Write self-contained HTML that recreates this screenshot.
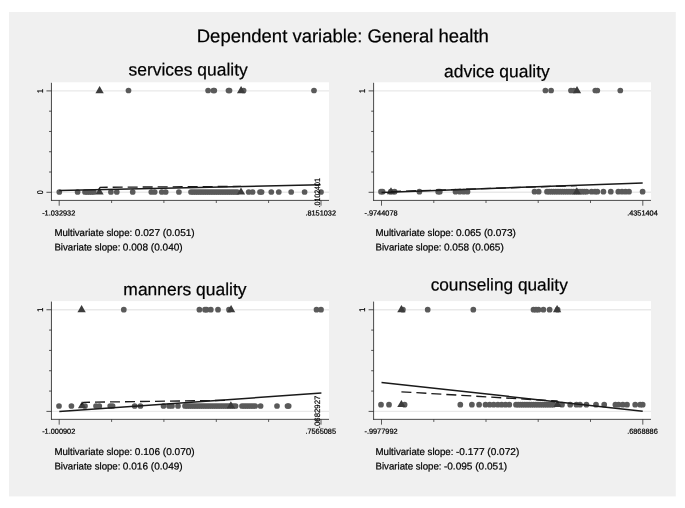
<!DOCTYPE html>
<html><head><meta charset="utf-8"><title>Dependent variable: General health</title>
<style>html,body{margin:0;padding:0;background:#fff;}svg{display:block;will-change:transform;transform:translateZ(0);}text{font-family:"Liberation Sans",sans-serif;text-rendering:geometricPrecision;fill:#000;stroke:#000;stroke-width:0.22px;}</style>
</head><body>
<svg width="685" height="508" viewBox="0 0 685 508">
<rect x="0" y="0" width="685" height="508" fill="#ffffff"/>
<rect x="9" y="12" width="666.8" height="484.4" fill="#f0f0f0"/>
<text transform="translate(342.8,42.3) rotate(0.03)" font-size="18.5" text-anchor="middle">Dependent variable: General health</text>
<rect x="51.45" y="82.3" width="277.55" height="118.10000000000001" fill="#ffffff"/>
<line x1="51.45" x2="329" y1="90.9" y2="90.9" stroke="#e9e9e9" stroke-width="1.4"/>
<line x1="51.45" x2="329" y1="192.3" y2="192.3" stroke="#e9e9e9" stroke-width="1.4"/>
<circle cx="128.5" cy="90.5" r="2.85" fill="#5a5a5a"/><circle cx="208.1" cy="90.5" r="2.85" fill="#5a5a5a"/><circle cx="213.4" cy="90.5" r="2.85" fill="#5a5a5a"/><circle cx="214.3" cy="90.5" r="2.85" fill="#5a5a5a"/><circle cx="228.5" cy="90.5" r="2.85" fill="#5a5a5a"/><circle cx="229.5" cy="90.5" r="2.85" fill="#5a5a5a"/><circle cx="243.6" cy="90.5" r="2.85" fill="#5a5a5a"/><circle cx="314.0" cy="90.5" r="2.85" fill="#5a5a5a"/><path d="M95.45 93.17 L103.75 93.17 L99.60 86.07 Z" fill="#3c3c3c"/><path d="M236.95 93.17 L245.25 93.17 L241.10 86.07 Z" fill="#3c3c3c"/><circle cx="59.3" cy="192.0" r="2.85" fill="#5a5a5a"/><circle cx="77.6" cy="192.0" r="2.85" fill="#5a5a5a"/><circle cx="85.0" cy="192.0" r="2.85" fill="#5a5a5a"/><circle cx="87.2" cy="192.0" r="2.85" fill="#5a5a5a"/><circle cx="89.4" cy="192.0" r="2.85" fill="#5a5a5a"/><circle cx="91.6" cy="192.0" r="2.85" fill="#5a5a5a"/><circle cx="93.8" cy="192.0" r="2.85" fill="#5a5a5a"/><circle cx="110.9" cy="192.0" r="2.85" fill="#5a5a5a"/><circle cx="116.8" cy="192.0" r="2.85" fill="#5a5a5a"/><circle cx="132.7" cy="192.0" r="2.85" fill="#5a5a5a"/><circle cx="151.3" cy="192.0" r="2.85" fill="#5a5a5a"/><circle cx="154.7" cy="192.0" r="2.85" fill="#5a5a5a"/><circle cx="161.8" cy="192.0" r="2.85" fill="#5a5a5a"/><circle cx="165.7" cy="192.0" r="2.85" fill="#5a5a5a"/><circle cx="178.9" cy="192.0" r="2.85" fill="#5a5a5a"/><circle cx="191.0" cy="192.0" r="2.85" fill="#5a5a5a"/><circle cx="193.2" cy="192.0" r="2.85" fill="#5a5a5a"/><circle cx="195.4" cy="192.0" r="2.85" fill="#5a5a5a"/><circle cx="197.6" cy="192.0" r="2.85" fill="#5a5a5a"/><circle cx="199.8" cy="192.0" r="2.85" fill="#5a5a5a"/><circle cx="202.0" cy="192.0" r="2.85" fill="#5a5a5a"/><circle cx="204.2" cy="192.0" r="2.85" fill="#5a5a5a"/><circle cx="206.4" cy="192.0" r="2.85" fill="#5a5a5a"/><circle cx="208.6" cy="192.0" r="2.85" fill="#5a5a5a"/><circle cx="210.8" cy="192.0" r="2.85" fill="#5a5a5a"/><circle cx="213.0" cy="192.0" r="2.85" fill="#5a5a5a"/><circle cx="215.2" cy="192.0" r="2.85" fill="#5a5a5a"/><circle cx="217.4" cy="192.0" r="2.85" fill="#5a5a5a"/><circle cx="219.6" cy="192.0" r="2.85" fill="#5a5a5a"/><circle cx="221.8" cy="192.0" r="2.85" fill="#5a5a5a"/><circle cx="224.0" cy="192.0" r="2.85" fill="#5a5a5a"/><circle cx="226.2" cy="192.0" r="2.85" fill="#5a5a5a"/><circle cx="228.4" cy="192.0" r="2.85" fill="#5a5a5a"/><circle cx="230.6" cy="192.0" r="2.85" fill="#5a5a5a"/><circle cx="232.8" cy="192.0" r="2.85" fill="#5a5a5a"/><circle cx="235.0" cy="192.0" r="2.85" fill="#5a5a5a"/><circle cx="237.2" cy="192.0" r="2.85" fill="#5a5a5a"/><circle cx="248.7" cy="192.0" r="2.85" fill="#5a5a5a"/><circle cx="252.6" cy="192.0" r="2.85" fill="#5a5a5a"/><circle cx="260.0" cy="192.0" r="2.85" fill="#5a5a5a"/><circle cx="261.6" cy="192.0" r="2.85" fill="#5a5a5a"/><circle cx="271.3" cy="192.0" r="2.85" fill="#5a5a5a"/><circle cx="278.8" cy="192.0" r="2.85" fill="#5a5a5a"/><circle cx="291.2" cy="192.0" r="2.85" fill="#5a5a5a"/><circle cx="304.6" cy="192.0" r="2.85" fill="#5a5a5a"/><circle cx="321.0" cy="192.0" r="2.85" fill="#5a5a5a"/><path d="M95.35 194.57 L103.65 194.57 L99.50 187.47 Z" fill="#3c3c3c"/><path d="M236.85 194.57 L245.15 194.57 L241.00 187.47 Z" fill="#3c3c3c"/><polyline points="98.8,189.4 100.2,187.3 241,186.4" fill="none" stroke="#1a1a1a" stroke-width="1.35" stroke-dasharray="10 5"/><line x1="59.3" y1="190.4" x2="320.5" y2="184.8" stroke="#1a1a1a" stroke-width="1.5"/>
<line x1="51.45" x2="51.45" y1="82.8" y2="200.8" stroke="#2a2a2a" stroke-width="0.85"/>
<line x1="51.050000000000004" x2="329" y1="200.4" y2="200.4" stroke="#2a2a2a" stroke-width="0.85"/>
<line x1="46.45" x2="51.45" y1="90.90" y2="90.90" stroke="#2a2a2a" stroke-width="0.8"/>
<line x1="49.050000000000004" x2="51.45" y1="111.18" y2="111.18" stroke="#2a2a2a" stroke-width="0.8"/>
<line x1="49.050000000000004" x2="51.45" y1="131.46" y2="131.46" stroke="#2a2a2a" stroke-width="0.8"/>
<line x1="49.050000000000004" x2="51.45" y1="151.74" y2="151.74" stroke="#2a2a2a" stroke-width="0.8"/>
<line x1="49.050000000000004" x2="51.45" y1="172.02" y2="172.02" stroke="#2a2a2a" stroke-width="0.8"/>
<line x1="46.45" x2="51.45" y1="192.30" y2="192.30" stroke="#2a2a2a" stroke-width="0.8"/>
<line x1="59.2" x2="59.2" y1="200.4" y2="205.70000000000002" stroke="#2a2a2a" stroke-width="0.75"/>
<line x1="111.6" x2="111.6" y1="200.4" y2="203.0" stroke="#2a2a2a" stroke-width="0.75"/>
<line x1="163.9" x2="163.9" y1="200.4" y2="203.0" stroke="#2a2a2a" stroke-width="0.75"/>
<line x1="216.3" x2="216.3" y1="200.4" y2="203.0" stroke="#2a2a2a" stroke-width="0.75"/>
<line x1="268.6" x2="268.6" y1="200.4" y2="203.0" stroke="#2a2a2a" stroke-width="0.75"/>
<line x1="321.0" x2="321.0" y1="200.4" y2="205.70000000000002" stroke="#2a2a2a" stroke-width="0.75"/>
<text transform="translate(42.85,90.9) rotate(-90) scale(0.88,1)" font-size="8.3" stroke="none" fill="#333" text-anchor="middle">1</text>
<text transform="translate(42.85,192.3) rotate(-90) scale(0.84,1)" font-size="8.3" stroke="none" fill="#333" text-anchor="middle">0</text>
<text transform="translate(58.70,215.50) rotate(0.03)" font-size="7.35" stroke-width="0.12" text-anchor="middle">-1.032932</text>
<text transform="translate(320.70,215.50) rotate(0.03)" font-size="7.35" stroke-width="0.12" text-anchor="middle">.8151032</text>
<text transform="translate(320.30,192.8) rotate(-90) scale(0.9,1)" font-size="7.8" stroke-width="0.05" text-anchor="middle">.0102401</text>
<text transform="translate(188.1,75.6) rotate(0.03)" font-size="17.45" text-anchor="middle">services quality</text>
<text class="pre" transform="translate(54.4,236.0) rotate(0.03) scale(0.978,1)" font-size="9.9">Multivariate slope:</text>
<text class="num" transform="translate(134.8,236.0) rotate(0.03) scale(1.02,1)" font-size="9.9">0.027 (0.051)</text>
<text class="pre" transform="translate(54.4,250.5) rotate(0.03) scale(0.978,1)" font-size="9.9">Bivariate slope:</text>
<text class="num" transform="translate(122.8,250.5) rotate(0.03) scale(1.02,1)" font-size="9.9">0.008 (0.040)</text>
<rect x="373.6" y="82.3" width="277.4" height="118.10000000000001" fill="#ffffff"/>
<line x1="373.6" x2="651" y1="90.9" y2="90.9" stroke="#e9e9e9" stroke-width="1.4"/>
<line x1="373.6" x2="651" y1="192.3" y2="192.3" stroke="#e9e9e9" stroke-width="1.4"/>
<circle cx="545.4" cy="90.5" r="2.85" fill="#5a5a5a"/><circle cx="551.1" cy="90.5" r="2.85" fill="#5a5a5a"/><circle cx="571.0" cy="90.5" r="2.85" fill="#5a5a5a"/><circle cx="574.0" cy="90.5" r="2.85" fill="#5a5a5a"/><circle cx="595.3" cy="90.5" r="2.85" fill="#5a5a5a"/><circle cx="597.3" cy="90.5" r="2.85" fill="#5a5a5a"/><circle cx="620.3" cy="90.5" r="2.85" fill="#5a5a5a"/><path d="M572.85 93.17 L581.15 93.17 L577.00 86.07 Z" fill="#3c3c3c"/><circle cx="381.0" cy="191.7" r="2.85" fill="#5a5a5a"/><circle cx="382.6" cy="191.7" r="2.85" fill="#5a5a5a"/><circle cx="390.8" cy="191.7" r="2.85" fill="#5a5a5a"/><circle cx="394.6" cy="191.7" r="2.85" fill="#5a5a5a"/><circle cx="419.4" cy="191.7" r="2.85" fill="#5a5a5a"/><circle cx="438.2" cy="191.7" r="2.85" fill="#5a5a5a"/><circle cx="439.8" cy="191.7" r="2.85" fill="#5a5a5a"/><circle cx="455.5" cy="191.7" r="2.85" fill="#5a5a5a"/><circle cx="459.8" cy="191.7" r="2.85" fill="#5a5a5a"/><circle cx="463.8" cy="191.7" r="2.85" fill="#5a5a5a"/><circle cx="467.5" cy="191.7" r="2.85" fill="#5a5a5a"/><circle cx="534.5" cy="191.7" r="2.85" fill="#5a5a5a"/><circle cx="538.7" cy="191.7" r="2.85" fill="#5a5a5a"/><circle cx="547.0" cy="191.7" r="2.85" fill="#5a5a5a"/><circle cx="549.2" cy="191.7" r="2.85" fill="#5a5a5a"/><circle cx="551.4" cy="191.7" r="2.85" fill="#5a5a5a"/><circle cx="553.6" cy="191.7" r="2.85" fill="#5a5a5a"/><circle cx="555.8" cy="191.7" r="2.85" fill="#5a5a5a"/><circle cx="558.0" cy="191.7" r="2.85" fill="#5a5a5a"/><circle cx="560.2" cy="191.7" r="2.85" fill="#5a5a5a"/><circle cx="562.4" cy="191.7" r="2.85" fill="#5a5a5a"/><circle cx="564.6" cy="191.7" r="2.85" fill="#5a5a5a"/><circle cx="566.8" cy="191.7" r="2.85" fill="#5a5a5a"/><circle cx="569.0" cy="191.7" r="2.85" fill="#5a5a5a"/><circle cx="571.2" cy="191.7" r="2.85" fill="#5a5a5a"/><circle cx="573.4" cy="191.7" r="2.85" fill="#5a5a5a"/><circle cx="575.6" cy="191.7" r="2.85" fill="#5a5a5a"/><circle cx="577.8" cy="191.7" r="2.85" fill="#5a5a5a"/><circle cx="580.0" cy="191.7" r="2.85" fill="#5a5a5a"/><circle cx="582.2" cy="191.7" r="2.85" fill="#5a5a5a"/><circle cx="584.4" cy="191.7" r="2.85" fill="#5a5a5a"/><circle cx="586.6" cy="191.7" r="2.85" fill="#5a5a5a"/><circle cx="591.5" cy="191.7" r="2.85" fill="#5a5a5a"/><circle cx="595.0" cy="191.7" r="2.85" fill="#5a5a5a"/><circle cx="597.3" cy="191.7" r="2.85" fill="#5a5a5a"/><circle cx="603.4" cy="191.7" r="2.85" fill="#5a5a5a"/><circle cx="610.8" cy="191.7" r="2.85" fill="#5a5a5a"/><circle cx="618.3" cy="191.7" r="2.85" fill="#5a5a5a"/><circle cx="622.0" cy="191.7" r="2.85" fill="#5a5a5a"/><circle cx="625.5" cy="191.7" r="2.85" fill="#5a5a5a"/><circle cx="629.0" cy="191.7" r="2.85" fill="#5a5a5a"/><circle cx="642.6" cy="191.7" r="2.85" fill="#5a5a5a"/><path d="M386.85 194.27 L395.15 194.27 L391.00 187.17 Z" fill="#3c3c3c"/><path d="M572.65 194.27 L580.95 194.27 L576.80 187.17 Z" fill="#3c3c3c"/><line x1="391" y1="191.6" x2="577" y2="185.6" stroke="#1a1a1a" stroke-width="1.35" stroke-dasharray="10 5"/><line x1="381.5" y1="192.4" x2="642.7" y2="183.0" stroke="#1a1a1a" stroke-width="1.5"/>
<line x1="373.6" x2="373.6" y1="82.8" y2="200.8" stroke="#2a2a2a" stroke-width="0.85"/>
<line x1="373.20000000000005" x2="651" y1="200.4" y2="200.4" stroke="#2a2a2a" stroke-width="0.85"/>
<line x1="368.6" x2="373.6" y1="90.90" y2="90.90" stroke="#2a2a2a" stroke-width="0.8"/>
<line x1="371.20000000000005" x2="373.6" y1="111.18" y2="111.18" stroke="#2a2a2a" stroke-width="0.8"/>
<line x1="371.20000000000005" x2="373.6" y1="131.46" y2="131.46" stroke="#2a2a2a" stroke-width="0.8"/>
<line x1="371.20000000000005" x2="373.6" y1="151.74" y2="151.74" stroke="#2a2a2a" stroke-width="0.8"/>
<line x1="371.20000000000005" x2="373.6" y1="172.02" y2="172.02" stroke="#2a2a2a" stroke-width="0.8"/>
<line x1="368.6" x2="373.6" y1="192.30" y2="192.30" stroke="#2a2a2a" stroke-width="0.8"/>
<line x1="381.5" x2="381.5" y1="200.4" y2="205.70000000000002" stroke="#2a2a2a" stroke-width="0.75"/>
<line x1="433.8" x2="433.8" y1="200.4" y2="203.0" stroke="#2a2a2a" stroke-width="0.75"/>
<line x1="486.0" x2="486.0" y1="200.4" y2="203.0" stroke="#2a2a2a" stroke-width="0.75"/>
<line x1="538.2" x2="538.2" y1="200.4" y2="203.0" stroke="#2a2a2a" stroke-width="0.75"/>
<line x1="590.5" x2="590.5" y1="200.4" y2="203.0" stroke="#2a2a2a" stroke-width="0.75"/>
<line x1="642.8" x2="642.8" y1="200.4" y2="205.70000000000002" stroke="#2a2a2a" stroke-width="0.75"/>
<text transform="translate(365.0,90.9) rotate(-90) scale(0.88,1)" font-size="8.3" stroke="none" fill="#333" text-anchor="middle">1</text>
<text transform="translate(381.00,215.50) rotate(0.03)" font-size="7.35" stroke-width="0.12" text-anchor="middle">-.9744078</text>
<text transform="translate(642.45,215.50) rotate(0.03)" font-size="7.35" stroke-width="0.12" text-anchor="middle">.4351404</text>
<text transform="translate(496.9,77.3) rotate(0.03)" font-size="17.45" text-anchor="middle">advice quality</text>
<text class="pre" transform="translate(375.5,236.0) rotate(0.03) scale(0.978,1)" font-size="9.9">Multivariate slope:</text>
<text class="num" transform="translate(456.0,236.0) rotate(0.03) scale(1.02,1)" font-size="9.9">0.065 (0.073)</text>
<text class="pre" transform="translate(375.5,250.5) rotate(0.03) scale(0.978,1)" font-size="9.9">Bivariate slope:</text>
<text class="num" transform="translate(443.9,250.5) rotate(0.03) scale(1.02,1)" font-size="9.9">0.058 (0.065)</text>
<rect x="51.45" y="301.1" width="277.55" height="118.25" fill="#ffffff"/>
<line x1="51.45" x2="329" y1="309.75" y2="309.75" stroke="#e9e9e9" stroke-width="1.4"/>
<line x1="51.45" x2="329" y1="411.4" y2="411.4" stroke="#e9e9e9" stroke-width="1.4"/>
<circle cx="123.8" cy="309.7" r="2.85" fill="#5a5a5a"/><circle cx="199.4" cy="309.7" r="2.85" fill="#5a5a5a"/><circle cx="205.0" cy="309.7" r="2.85" fill="#5a5a5a"/><circle cx="206.6" cy="309.7" r="2.85" fill="#5a5a5a"/><circle cx="210.8" cy="309.7" r="2.85" fill="#5a5a5a"/><circle cx="218.0" cy="309.7" r="2.85" fill="#5a5a5a"/><circle cx="229.0" cy="309.7" r="2.85" fill="#5a5a5a"/><circle cx="316.5" cy="309.7" r="2.85" fill="#5a5a5a"/><circle cx="321.0" cy="309.7" r="2.85" fill="#5a5a5a"/><path d="M77.45 312.22 L85.75 312.22 L81.60 305.12 Z" fill="#3c3c3c"/><path d="M226.95 312.22 L235.25 312.22 L231.10 305.12 Z" fill="#3c3c3c"/><circle cx="59.0" cy="406.0" r="2.85" fill="#5a5a5a"/><circle cx="71.4" cy="406.0" r="2.85" fill="#5a5a5a"/><circle cx="85.0" cy="406.0" r="2.85" fill="#5a5a5a"/><circle cx="96.0" cy="406.0" r="2.85" fill="#5a5a5a"/><circle cx="99.3" cy="406.0" r="2.85" fill="#5a5a5a"/><circle cx="110.2" cy="406.0" r="2.85" fill="#5a5a5a"/><circle cx="112.6" cy="406.0" r="2.85" fill="#5a5a5a"/><circle cx="134.7" cy="406.0" r="2.85" fill="#5a5a5a"/><circle cx="140.4" cy="406.0" r="2.85" fill="#5a5a5a"/><circle cx="163.5" cy="406.0" r="2.85" fill="#5a5a5a"/><circle cx="169.0" cy="406.0" r="2.85" fill="#5a5a5a"/><circle cx="172.0" cy="406.0" r="2.85" fill="#5a5a5a"/><circle cx="178.0" cy="406.0" r="2.85" fill="#5a5a5a"/><circle cx="185.0" cy="406.0" r="2.85" fill="#5a5a5a"/><circle cx="187.2" cy="406.0" r="2.85" fill="#5a5a5a"/><circle cx="189.4" cy="406.0" r="2.85" fill="#5a5a5a"/><circle cx="191.6" cy="406.0" r="2.85" fill="#5a5a5a"/><circle cx="193.8" cy="406.0" r="2.85" fill="#5a5a5a"/><circle cx="196.0" cy="406.0" r="2.85" fill="#5a5a5a"/><circle cx="198.2" cy="406.0" r="2.85" fill="#5a5a5a"/><circle cx="200.4" cy="406.0" r="2.85" fill="#5a5a5a"/><circle cx="202.6" cy="406.0" r="2.85" fill="#5a5a5a"/><circle cx="204.8" cy="406.0" r="2.85" fill="#5a5a5a"/><circle cx="207.0" cy="406.0" r="2.85" fill="#5a5a5a"/><circle cx="209.2" cy="406.0" r="2.85" fill="#5a5a5a"/><circle cx="211.4" cy="406.0" r="2.85" fill="#5a5a5a"/><circle cx="213.6" cy="406.0" r="2.85" fill="#5a5a5a"/><circle cx="215.8" cy="406.0" r="2.85" fill="#5a5a5a"/><circle cx="218.0" cy="406.0" r="2.85" fill="#5a5a5a"/><circle cx="220.2" cy="406.0" r="2.85" fill="#5a5a5a"/><circle cx="222.4" cy="406.0" r="2.85" fill="#5a5a5a"/><circle cx="224.6" cy="406.0" r="2.85" fill="#5a5a5a"/><circle cx="226.8" cy="406.0" r="2.85" fill="#5a5a5a"/><circle cx="229.0" cy="406.0" r="2.85" fill="#5a5a5a"/><circle cx="231.2" cy="406.0" r="2.85" fill="#5a5a5a"/><circle cx="233.4" cy="406.0" r="2.85" fill="#5a5a5a"/><circle cx="235.6" cy="406.0" r="2.85" fill="#5a5a5a"/><circle cx="242.0" cy="406.0" r="2.85" fill="#5a5a5a"/><circle cx="244.2" cy="406.0" r="2.85" fill="#5a5a5a"/><circle cx="246.4" cy="406.0" r="2.85" fill="#5a5a5a"/><circle cx="248.6" cy="406.0" r="2.85" fill="#5a5a5a"/><circle cx="250.8" cy="406.0" r="2.85" fill="#5a5a5a"/><circle cx="253.0" cy="406.0" r="2.85" fill="#5a5a5a"/><circle cx="255.2" cy="406.0" r="2.85" fill="#5a5a5a"/><circle cx="260.6" cy="406.0" r="2.85" fill="#5a5a5a"/><circle cx="277.0" cy="406.0" r="2.85" fill="#5a5a5a"/><circle cx="287.5" cy="406.0" r="2.85" fill="#5a5a5a"/><circle cx="288.7" cy="406.0" r="2.85" fill="#5a5a5a"/><path d="M77.95 408.37 L86.25 408.37 L82.10 401.27 Z" fill="#3c3c3c"/><path d="M226.75 408.37 L235.05 408.37 L230.90 401.27 Z" fill="#3c3c3c"/><polyline points="81,404.8 83.6,402.3 230,400.3" fill="none" stroke="#1a1a1a" stroke-width="1.35" stroke-dasharray="10 5"/><line x1="59.3" y1="411.6" x2="321.4" y2="393.0" stroke="#1a1a1a" stroke-width="1.5"/>
<line x1="51.45" x2="51.45" y1="301.6" y2="419.75" stroke="#2a2a2a" stroke-width="0.85"/>
<line x1="51.050000000000004" x2="329" y1="419.35" y2="419.35" stroke="#2a2a2a" stroke-width="0.85"/>
<line x1="46.45" x2="51.45" y1="309.75" y2="309.75" stroke="#2a2a2a" stroke-width="0.8"/>
<line x1="49.050000000000004" x2="51.45" y1="330.08" y2="330.08" stroke="#2a2a2a" stroke-width="0.8"/>
<line x1="49.050000000000004" x2="51.45" y1="350.41" y2="350.41" stroke="#2a2a2a" stroke-width="0.8"/>
<line x1="49.050000000000004" x2="51.45" y1="370.74" y2="370.74" stroke="#2a2a2a" stroke-width="0.8"/>
<line x1="49.050000000000004" x2="51.45" y1="391.07" y2="391.07" stroke="#2a2a2a" stroke-width="0.8"/>
<line x1="46.45" x2="51.45" y1="411.40" y2="411.40" stroke="#2a2a2a" stroke-width="0.8"/>
<line x1="59.2" x2="59.2" y1="419.35" y2="424.65000000000003" stroke="#2a2a2a" stroke-width="0.75"/>
<line x1="111.6" x2="111.6" y1="419.35" y2="421.95000000000005" stroke="#2a2a2a" stroke-width="0.75"/>
<line x1="163.9" x2="163.9" y1="419.35" y2="421.95000000000005" stroke="#2a2a2a" stroke-width="0.75"/>
<line x1="216.3" x2="216.3" y1="419.35" y2="421.95000000000005" stroke="#2a2a2a" stroke-width="0.75"/>
<line x1="268.6" x2="268.6" y1="419.35" y2="421.95000000000005" stroke="#2a2a2a" stroke-width="0.75"/>
<line x1="321.0" x2="321.0" y1="419.35" y2="424.65000000000003" stroke="#2a2a2a" stroke-width="0.75"/>
<text transform="translate(42.85,309.75) rotate(-90) scale(0.88,1)" font-size="8.3" stroke="none" fill="#333" text-anchor="middle">1</text>
<text transform="translate(58.70,433.85) rotate(0.03)" font-size="7.35" stroke-width="0.12" text-anchor="middle">-1.000902</text>
<text transform="translate(320.70,433.85) rotate(0.03)" font-size="7.35" stroke-width="0.12" text-anchor="middle">.7565085</text>
<text transform="translate(320.30,411.9) rotate(-90) scale(1,1)" font-size="7.8" stroke-width="0.05" text-anchor="middle">.0682927</text>
<text transform="translate(184.9,295.2) rotate(0.03)" font-size="17.45" text-anchor="middle">manners quality</text>
<text class="pre" transform="translate(54.4,455.0) rotate(0.03) scale(0.978,1)" font-size="9.9">Multivariate slope:</text>
<text class="num" transform="translate(134.8,455.0) rotate(0.03) scale(1.02,1)" font-size="9.9">0.106 (0.070)</text>
<text class="pre" transform="translate(54.4,469.5) rotate(0.03) scale(0.978,1)" font-size="9.9">Bivariate slope:</text>
<text class="num" transform="translate(122.8,469.5) rotate(0.03) scale(1.02,1)" font-size="9.9">0.016 (0.049)</text>
<rect x="373.6" y="301.1" width="277.4" height="118.25" fill="#ffffff"/>
<line x1="373.6" x2="651" y1="309.75" y2="309.75" stroke="#e9e9e9" stroke-width="1.4"/>
<line x1="373.6" x2="651" y1="411.4" y2="411.4" stroke="#e9e9e9" stroke-width="1.4"/>
<circle cx="402.9" cy="309.7" r="2.85" fill="#5a5a5a"/><circle cx="427.7" cy="309.7" r="2.85" fill="#5a5a5a"/><circle cx="473.3" cy="309.7" r="2.85" fill="#5a5a5a"/><circle cx="533.5" cy="309.7" r="2.85" fill="#5a5a5a"/><circle cx="536.0" cy="309.7" r="2.85" fill="#5a5a5a"/><circle cx="538.5" cy="309.7" r="2.85" fill="#5a5a5a"/><circle cx="543.4" cy="309.7" r="2.85" fill="#5a5a5a"/><circle cx="549.6" cy="309.7" r="2.85" fill="#5a5a5a"/><circle cx="557.6" cy="309.7" r="2.85" fill="#5a5a5a"/><path d="M397.25 312.22 L405.55 312.22 L401.40 305.12 Z" fill="#3c3c3c"/><path d="M552.95 312.22 L561.25 312.22 L557.10 305.12 Z" fill="#3c3c3c"/><circle cx="381.0" cy="404.7" r="2.85" fill="#5a5a5a"/><circle cx="389.0" cy="404.7" r="2.85" fill="#5a5a5a"/><circle cx="404.6" cy="404.7" r="2.85" fill="#5a5a5a"/><circle cx="460.3" cy="404.7" r="2.85" fill="#5a5a5a"/><circle cx="471.9" cy="404.7" r="2.85" fill="#5a5a5a"/><circle cx="479.1" cy="404.7" r="2.85" fill="#5a5a5a"/><circle cx="485.5" cy="404.7" r="2.85" fill="#5a5a5a"/><circle cx="489.7" cy="404.7" r="2.85" fill="#5a5a5a"/><circle cx="493.7" cy="404.7" r="2.85" fill="#5a5a5a"/><circle cx="497.9" cy="404.7" r="2.85" fill="#5a5a5a"/><circle cx="501.7" cy="404.7" r="2.85" fill="#5a5a5a"/><circle cx="505.5" cy="404.7" r="2.85" fill="#5a5a5a"/><circle cx="509.3" cy="404.7" r="2.85" fill="#5a5a5a"/><circle cx="516.0" cy="404.7" r="2.85" fill="#5a5a5a"/><circle cx="518.2" cy="404.7" r="2.85" fill="#5a5a5a"/><circle cx="520.4" cy="404.7" r="2.85" fill="#5a5a5a"/><circle cx="522.6" cy="404.7" r="2.85" fill="#5a5a5a"/><circle cx="524.8" cy="404.7" r="2.85" fill="#5a5a5a"/><circle cx="527.0" cy="404.7" r="2.85" fill="#5a5a5a"/><circle cx="529.2" cy="404.7" r="2.85" fill="#5a5a5a"/><circle cx="531.4" cy="404.7" r="2.85" fill="#5a5a5a"/><circle cx="533.6" cy="404.7" r="2.85" fill="#5a5a5a"/><circle cx="535.8" cy="404.7" r="2.85" fill="#5a5a5a"/><circle cx="538.0" cy="404.7" r="2.85" fill="#5a5a5a"/><circle cx="540.2" cy="404.7" r="2.85" fill="#5a5a5a"/><circle cx="542.4" cy="404.7" r="2.85" fill="#5a5a5a"/><circle cx="544.6" cy="404.7" r="2.85" fill="#5a5a5a"/><circle cx="546.8" cy="404.7" r="2.85" fill="#5a5a5a"/><circle cx="549.0" cy="404.7" r="2.85" fill="#5a5a5a"/><circle cx="551.2" cy="404.7" r="2.85" fill="#5a5a5a"/><circle cx="553.4" cy="404.7" r="2.85" fill="#5a5a5a"/><circle cx="562.0" cy="404.7" r="2.85" fill="#5a5a5a"/><circle cx="570.2" cy="404.7" r="2.85" fill="#5a5a5a"/><circle cx="576.4" cy="404.7" r="2.85" fill="#5a5a5a"/><circle cx="580.0" cy="404.7" r="2.85" fill="#5a5a5a"/><circle cx="586.4" cy="404.7" r="2.85" fill="#5a5a5a"/><circle cx="596.0" cy="404.7" r="2.85" fill="#5a5a5a"/><circle cx="604.2" cy="404.7" r="2.85" fill="#5a5a5a"/><circle cx="615.4" cy="404.7" r="2.85" fill="#5a5a5a"/><circle cx="618.6" cy="404.7" r="2.85" fill="#5a5a5a"/><circle cx="622.8" cy="404.7" r="2.85" fill="#5a5a5a"/><circle cx="627.0" cy="404.7" r="2.85" fill="#5a5a5a"/><circle cx="635.2" cy="404.7" r="2.85" fill="#5a5a5a"/><circle cx="640.2" cy="404.7" r="2.85" fill="#5a5a5a"/><circle cx="642.7" cy="404.7" r="2.85" fill="#5a5a5a"/><path d="M397.25 407.07 L405.55 407.07 L401.40 399.97 Z" fill="#3c3c3c"/><path d="M553.45 407.07 L561.75 407.07 L557.60 399.97 Z" fill="#3c3c3c"/><line x1="401.4" y1="391.8" x2="557" y2="401.0" stroke="#1a1a1a" stroke-width="1.35" stroke-dasharray="10 5"/><line x1="381.5" y1="382.4" x2="642.7" y2="411.3" stroke="#1a1a1a" stroke-width="1.5"/>
<line x1="373.6" x2="373.6" y1="301.6" y2="419.75" stroke="#2a2a2a" stroke-width="0.85"/>
<line x1="373.20000000000005" x2="651" y1="419.35" y2="419.35" stroke="#2a2a2a" stroke-width="0.85"/>
<line x1="368.6" x2="373.6" y1="309.75" y2="309.75" stroke="#2a2a2a" stroke-width="0.8"/>
<line x1="371.20000000000005" x2="373.6" y1="330.08" y2="330.08" stroke="#2a2a2a" stroke-width="0.8"/>
<line x1="371.20000000000005" x2="373.6" y1="350.41" y2="350.41" stroke="#2a2a2a" stroke-width="0.8"/>
<line x1="371.20000000000005" x2="373.6" y1="370.74" y2="370.74" stroke="#2a2a2a" stroke-width="0.8"/>
<line x1="371.20000000000005" x2="373.6" y1="391.07" y2="391.07" stroke="#2a2a2a" stroke-width="0.8"/>
<line x1="368.6" x2="373.6" y1="411.40" y2="411.40" stroke="#2a2a2a" stroke-width="0.8"/>
<line x1="381.5" x2="381.5" y1="419.35" y2="424.65000000000003" stroke="#2a2a2a" stroke-width="0.75"/>
<line x1="433.8" x2="433.8" y1="419.35" y2="421.95000000000005" stroke="#2a2a2a" stroke-width="0.75"/>
<line x1="486.0" x2="486.0" y1="419.35" y2="421.95000000000005" stroke="#2a2a2a" stroke-width="0.75"/>
<line x1="538.2" x2="538.2" y1="419.35" y2="421.95000000000005" stroke="#2a2a2a" stroke-width="0.75"/>
<line x1="590.5" x2="590.5" y1="419.35" y2="421.95000000000005" stroke="#2a2a2a" stroke-width="0.75"/>
<line x1="642.8" x2="642.8" y1="419.35" y2="424.65000000000003" stroke="#2a2a2a" stroke-width="0.75"/>
<text transform="translate(365.0,309.75) rotate(-90) scale(0.88,1)" font-size="8.3" stroke="none" fill="#333" text-anchor="middle">1</text>
<text transform="translate(381.00,433.85) rotate(0.03)" font-size="7.35" stroke-width="0.12" text-anchor="middle">-.9977992</text>
<text transform="translate(642.45,433.85) rotate(0.03)" font-size="7.35" stroke-width="0.12" text-anchor="middle">.6868886</text>
<text transform="translate(499.2,290.6) rotate(0.03)" font-size="17.25" text-anchor="middle">counseling quality</text>
<text class="pre" transform="translate(375.5,455.0) rotate(0.03) scale(0.978,1)" font-size="9.9">Multivariate slope:</text>
<text class="num" transform="translate(456.0,455.0) rotate(0.03) scale(1.02,1)" font-size="9.9">-0.177 (0.072)</text>
<text class="pre" transform="translate(375.5,469.5) rotate(0.03) scale(0.978,1)" font-size="9.9">Bivariate slope:</text>
<text class="num" transform="translate(443.9,469.5) rotate(0.03) scale(1.02,1)" font-size="9.9">-0.095 (0.051)</text>
</svg></body></html>
